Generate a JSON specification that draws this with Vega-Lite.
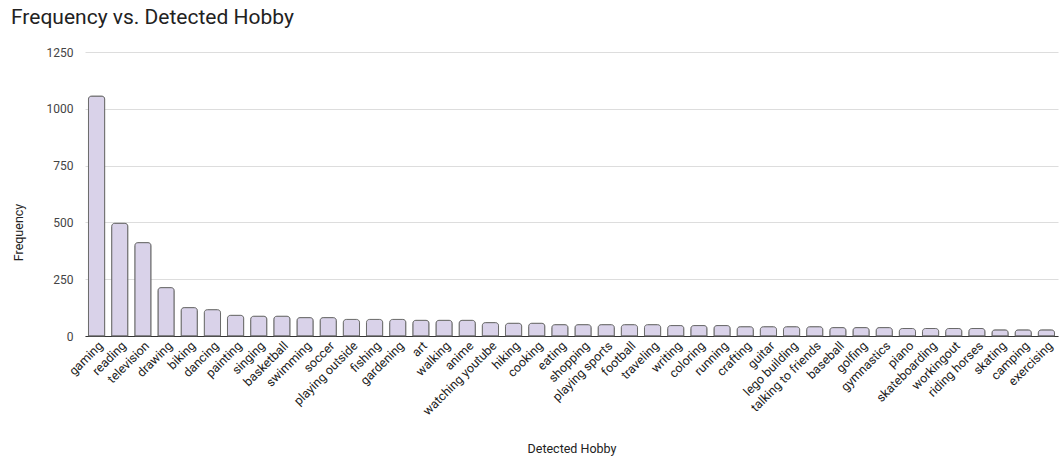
{
  "$schema": "https://vega.github.io/schema/vega-lite/v6.json",
  "width": 973,
  "height": 284,
  "autosize": {"type": "none"},
  "padding": {"left": 85, "top": 52, "right": 1, "bottom": 123},
  "background": "#ffffff",
  "config": {
    "font": "Roboto",
    "view": {"stroke": null}
  },
  "title": {
    "text": "Frequency vs. Detected Hobby",
    "anchor": "start",
    "frame": "group",
    "dx": -74,
    "offset": 18,
    "fontSize": 21,
    "fontWeight": "normal",
    "color": "#222222",
    "font": "Roboto"
  },
  "data": {
    "values": [
      {"hobby": "gaming", "freq": 1056},
      {"hobby": "reading", "freq": 496},
      {"hobby": "television", "freq": 411},
      {"hobby": "drawing", "freq": 213},
      {"hobby": "biking", "freq": 125},
      {"hobby": "dancing", "freq": 116},
      {"hobby": "painting", "freq": 91},
      {"hobby": "singing", "freq": 87},
      {"hobby": "basketball", "freq": 87},
      {"hobby": "swimming", "freq": 81},
      {"hobby": "soccer", "freq": 81},
      {"hobby": "playing outside", "freq": 73},
      {"hobby": "fishing", "freq": 73},
      {"hobby": "gardening", "freq": 73},
      {"hobby": "art", "freq": 69},
      {"hobby": "walking", "freq": 69},
      {"hobby": "anime", "freq": 69},
      {"hobby": "watching youtube", "freq": 59},
      {"hobby": "hiking", "freq": 56},
      {"hobby": "cooking", "freq": 56},
      {"hobby": "eating", "freq": 50},
      {"hobby": "shopping", "freq": 50},
      {"hobby": "playing sports", "freq": 50},
      {"hobby": "football", "freq": 50},
      {"hobby": "traveling", "freq": 50},
      {"hobby": "writing", "freq": 46},
      {"hobby": "coloring", "freq": 46},
      {"hobby": "running", "freq": 46},
      {"hobby": "crafting", "freq": 41},
      {"hobby": "guitar", "freq": 41},
      {"hobby": "lego building", "freq": 41},
      {"hobby": "talking to friends", "freq": 41},
      {"hobby": "baseball", "freq": 37},
      {"hobby": "golfing", "freq": 37},
      {"hobby": "gymnastics", "freq": 37},
      {"hobby": "piano", "freq": 33},
      {"hobby": "skateboarding", "freq": 33},
      {"hobby": "workingout", "freq": 33},
      {"hobby": "riding horses", "freq": 33},
      {"hobby": "skating", "freq": 27},
      {"hobby": "camping", "freq": 27},
      {"hobby": "exercising", "freq": 27}
    ]
  },
  "mark": {
    "type": "bar",
    "fill": "#d9d2e9",
    "stroke": "#6a6a6a",
    "strokeWidth": 1,
    "cornerRadiusTopLeft": 3,
    "cornerRadiusTopRight": 3
  },
  "encoding": {
    "x": {
      "field": "hobby",
      "type": "nominal",
      "sort": null,
      "scale": {"paddingInner": 0.3, "paddingOuter": 0.15},
      "axis": {
        "title": "Detected Hobby",
        "titleFont": "Roboto",
        "titleFontSize": 12.5,
        "titleFontWeight": "normal",
        "titleColor": "#222222",
        "titleBaseline": "middle",
        "titleY": 112,
        "labelAngle": -45,
        "labelAlign": "right",
        "labelBaseline": "top",
        "labelFontSize": 12.5,
        "labelColor": "#222222",
        "labelPadding": 3,
        "labelOverlap": false,
        "ticks": false,
        "domainColor": "#333333",
        "domainWidth": 1,
        "grid": false
      }
    },
    "y": {
      "field": "freq",
      "type": "quantitative",
      "scale": {"domain": [0, 1250], "nice": false},
      "axis": {
        "title": "Frequency",
        "titleFont": "Roboto",
        "titleFontSize": 12.5,
        "titleFontWeight": "normal",
        "titleColor": "#222222",
        "titleAngle": -90,
        "titleAlign": "center",
        "titleBaseline": "middle",
        "titleX": -67,
        "titleY": 180,
        "values": [0, 250, 500, 750, 1000, 1250],
        "format": "d",
        "labelFontSize": 12,
        "labelColor": "#444444",
        "labelPadding": 12,
        "ticks": false,
        "domain": false,
        "grid": true,
        "gridColor": "#dddddd",
        "gridWidth": 1
      }
    }
  }
}
